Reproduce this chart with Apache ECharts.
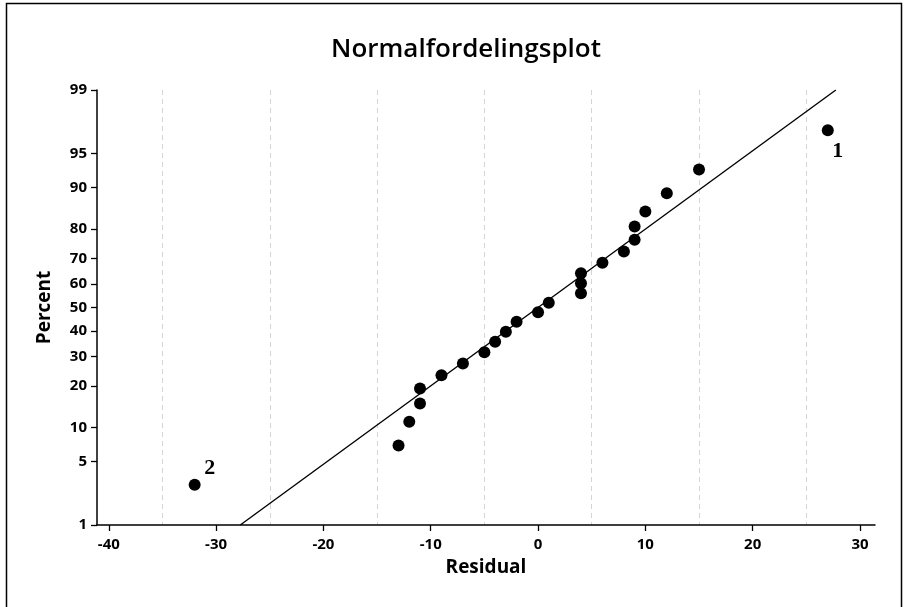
<!DOCTYPE html>
<html>
<head>
<meta charset="utf-8">
<script src="https://cdn.jsdelivr.net/npm/echarts@6/dist/echarts.min.js"></script>
<style>
  html, body { margin: 0; padding: 0; background: #fff; }
  #chart { width: 905px; height: 607px; }
</style>
</head>
<body>
<div id="chart"></div>
<script>
// residuals, sorted, and their plotting positions in percent
const residuals = [-32, -13, -12, -11, -11, -9, -7, -5, -4, -3, -2, 0, 1, 4, 4, 4, 6, 8, 9, 9, 10, 12, 15, 27];
const percents = [2.9, 7.0, 11.1, 15.2, 19.3, 23.4, 27.5, 31.6, 35.7, 39.8, 43.9, 48.0, 52.0, 56.1, 60.2, 64.3, 68.4, 72.5, 76.6, 80.7, 84.8, 88.9, 93.0, 97.1];
// the two marked observations (index in the arrays above -> label)
const markedIdx = [0, 23];
const markedText = ['2', '1'];

// fitted normal line, end points
const lineX = [-27.75, 27.75];
const lineP = [1, 99];

const xTicks = [-40, -30, -20, -10, 0, 10, 20, 30];
const xGrid = [-35, -25, -15, -5, 5, 15, 25];
const pctTicks = [1, 5, 10, 20, 30, 40, 50, 60, 70, 80, 90, 95, 99];

// inverse normal cdf (Acklam)
function probit(p) {
  const a = [-3.969683028665376e+01, 2.209460984245205e+02, -2.759285104469687e+02, 1.383577518672690e+02, -3.066479806614716e+01, 2.506628277459239e+00];
  const b = [-5.447609879822406e+01, 1.615858368580409e+02, -1.556989798598866e+02, 6.680131188771972e+01, -1.328068155288572e+01];
  const c = [-7.784894002430293e-03, -3.223964580411365e-01, -2.400758277161838e+00, -2.549732539343734e+00, 4.374664141464968e+00, 2.938163982698783e+00];
  const d = [7.784695709041462e-03, 3.224671290700398e-01, 2.445134137142996e+00, 3.754408661907416e+00];
  const pl = 0.02425;
  let q, r;
  if (p < pl) {
    q = Math.sqrt(-2 * Math.log(p));
    return (((((c[0]*q+c[1])*q+c[2])*q+c[3])*q+c[4])*q+c[5]) / ((((d[0]*q+d[1])*q+d[2])*q+d[3])*q+1);
  } else if (p <= 1 - pl) {
    q = p - 0.5; r = q * q;
    return (((((a[0]*r+a[1])*r+a[2])*r+a[3])*r+a[4])*r+a[5])*q / (((((b[0]*r+b[1])*r+b[2])*r+b[3])*r+b[4])*r+1);
  }
  q = Math.sqrt(-2 * Math.log(1 - p));
  return -(((((c[0]*q+c[1])*q+c[2])*q+c[3])*q+c[4])*q+c[5]) / ((((d[0]*q+d[1])*q+d[2])*q+d[3])*q+1);
}

const z = p => probit(p / 100);
const yTickVals = pctTicks.map(z);

const points = residuals.map((r, i) => {
  const item = { value: [r, z(percents[i])] };
  const k = markedIdx.indexOf(i);
  if (k >= 0) {
    item.label = {
      show: true, formatter: markedText[k],
      position: 'inside',
      offset: k === 0 ? [15, -16] : [10, 21],
      fontFamily: 'Liberation Serif', fontWeight: 'bold', fontSize: 22, color: '#000'
    };
  }
  return item;
});

const chart = echarts.init(document.getElementById('chart'));
const tickFont = { fontFamily: 'Open Sans', fontWeight: 'bold', fontSize: 15, color: '#000' };
const nameFont = { fontFamily: 'Open Sans', fontWeight: 'bold', fontSize: 19, color: '#000' };

chart.setOption({
  backgroundColor: '#fff',
  animation: false,
  title: {
    text: 'Normalfordelingsplot', left: 461, textAlign: 'center', top: 32,
    textStyle: { fontFamily: 'Open Sans', fontWeight: 600, fontSize: 26, color: '#000' }
  },
  grid: { left: 97, right: 30, top: 90, bottom: 82 },
  xAxis: [{
    type: 'value', min: -41.1, max: 31.4,
    name: 'Residual', nameLocation: 'middle', nameGap: 33,
    nameTextStyle: nameFont,
    axisLine: { onZero: false, lineStyle: { color: '#000', width: 1.5 } },
    axisTick: { customValues: xTicks, length: 6, lineStyle: { color: '#000', width: 1.3 } },
    axisLabel: { customValues: xTicks, margin: 12, ...tickFont },
    splitLine: { show: false }
  }, {
    type: 'value', min: -41.1, max: 31.4, position: 'bottom',
    axisLine: { show: false },
    axisTick: { show: false, customValues: xGrid },
    axisLabel: { show: false, customValues: xGrid },
    splitLine: { show: true, lineStyle: { color: '#d4d4d4', type: [5, 4], width: 1 } }
  }],
  yAxis: {
    type: 'value', min: z(1), max: z(99),
    name: 'Percent', nameLocation: 'middle', nameGap: 43,
    nameTextStyle: nameFont,
    axisLine: { show: true, onZero: false, lineStyle: { color: '#000', width: 1.5 } },
    axisTick: { show: true, customValues: yTickVals, length: 6, lineStyle: { color: '#000', width: 1.3 } },
    axisLabel: {
      customValues: yTickVals, margin: 10, ...tickFont,
      formatter: v => {
        let best = 0;
        yTickVals.forEach((t, i) => { if (Math.abs(t - v) < Math.abs(yTickVals[best] - v)) best = i; });
        return String(pctTicks[best]);
      }
    },
    splitLine: { show: false }
  },
  series: [{
    type: 'line',
    data: lineX.map((x, i) => [x, z(lineP[i])]),
    symbol: 'none',
    lineStyle: { color: '#000', width: 1.4 },
    z: 2
  }, {
    type: 'scatter',
    data: points,
    symbolSize: 12,
    itemStyle: { color: '#000', opacity: 1 },
    z: 3
  }],
  graphic: [{
    type: 'polyline',
    shape: { points: [[6.5, 607], [6.5, 3.5], [901.5, 3.5], [901.5, 607]] },
    style: { stroke: '#000', lineWidth: 1.5, fill: null }
  }]
});
</script>
</body>
</html>
